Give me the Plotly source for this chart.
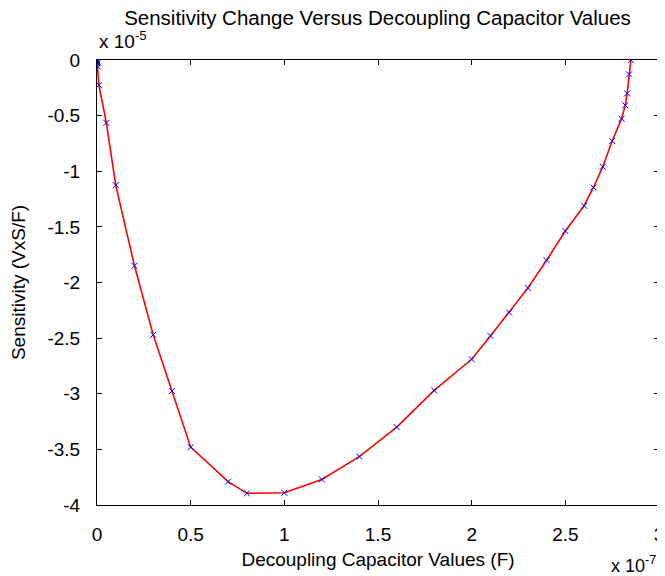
import plotly.graph_objects as go

# Capacitor values in units of 1e-7 F
cap_values = [0, 0.0005, 0.001, 0.002, 0.005, 0.01, 0.05, 0.1, 0.2, 0.3, 0.4, 0.5,
              0.7, 0.8, 1.0, 1.2, 1.4, 1.6, 1.8, 2.0, 2.1, 2.2, 2.3, 2.4, 2.5,
              2.6, 2.65, 2.7, 2.75, 2.8, 2.82, 2.83, 2.84, 2.85]
# Sensitivity in units of 1e-5 VxS/F
sensitivity = [0, -0.01, -0.02, -0.03, -0.06, -0.225, -0.565, -1.125, -1.85, -2.47, -2.975, -3.48,
               -3.79, -3.895, -3.89, -3.77, -3.565, -3.30, -2.97, -2.69, -2.48, -2.27, -2.05, -1.80, -1.537,
               -1.31, -1.146, -0.959, -0.728, -0.528, -0.407, -0.30, -0.129, 0]

x_tick_vals = [0, 0.5, 1, 1.5, 2, 2.5, 3]
x_tick_text = ["0", "0.5", "1", "1.5", "2", "2.5", "3"]
y_tick_vals = [0, -0.5, -1, -1.5, -2, -2.5, -3, -3.5, -4]
y_tick_text = ["0", "-0.5", "-1", "-1.5", "-2", "-2.5", "-3", "-3.5", "-4"]

FONT = "Liberation Sans, Arial, Helvetica, sans-serif"
FS = 19

fig = go.Figure()
fig.add_trace(go.Scatter(x=cap_values, y=sensitivity, mode="lines",
                         line=dict(color="#ff0000", width=1.6), showlegend=False))
fig.add_trace(go.Scatter(x=cap_values, y=sensitivity, mode="markers",
                         marker=dict(symbol="x-thin", size=6, color="#0000ff",
                                     line=dict(color="#0000ff", width=1)),
                         showlegend=False))

axis_common = dict(showgrid=False, zeroline=False, showline=True, linecolor="black",
                   linewidth=1, mirror="ticks", ticks="inside", ticklen=5,
                   tickcolor="black", automargin=False,
                   tickfont=dict(family=FONT, size=FS, color="black"))

fig.update_xaxes(range=[0, 3], tickvals=x_tick_vals, ticktext=x_tick_text,
                 ticklabelstandoff=12,
                 title=dict(text="Decoupling Capacitor Values (F)",
                            font=dict(family=FONT, size=FS, color="black"), standoff=8),
                 **axis_common)
fig.update_yaxes(range=[-4, 0], tickvals=y_tick_vals, ticktext=y_tick_text,
                 ticklabelstandoff=12,
                 title=dict(text="Sensitivity (VxS/F)",
                            font=dict(family=FONT, size=FS, color="black"), standoff=18),
                 **axis_common)

fig.update_layout(
    width=657, height=568,
    margin=dict(l=89, r=6, t=52, b=71),
    paper_bgcolor="white", plot_bgcolor="white",
    title=dict(text="Sensitivity Change Versus Decoupling Capacitor Values",
               font=dict(family=FONT, size=20.5, color="black"),
               x=0.5624, xanchor="center", y=1 - 9.5 / 568, yanchor="middle"),
    annotations=[
        dict(text="x 10<sup>-5</sup>", xref="paper", yref="paper", x=0, y=1,
             xanchor="left", yanchor="bottom", yshift=6, showarrow=False,
             font=dict(family=FONT, size=FS, color="black")),
        dict(text="x 10<sup>-7</sup>", xref="paper", yref="paper", x=1, y=0,
             xanchor="right", yanchor="top", yshift=-46, xshift=-1, showarrow=False,
             font=dict(family=FONT, size=18, color="black")),
    ],
)

fig.write_html("out.html")
